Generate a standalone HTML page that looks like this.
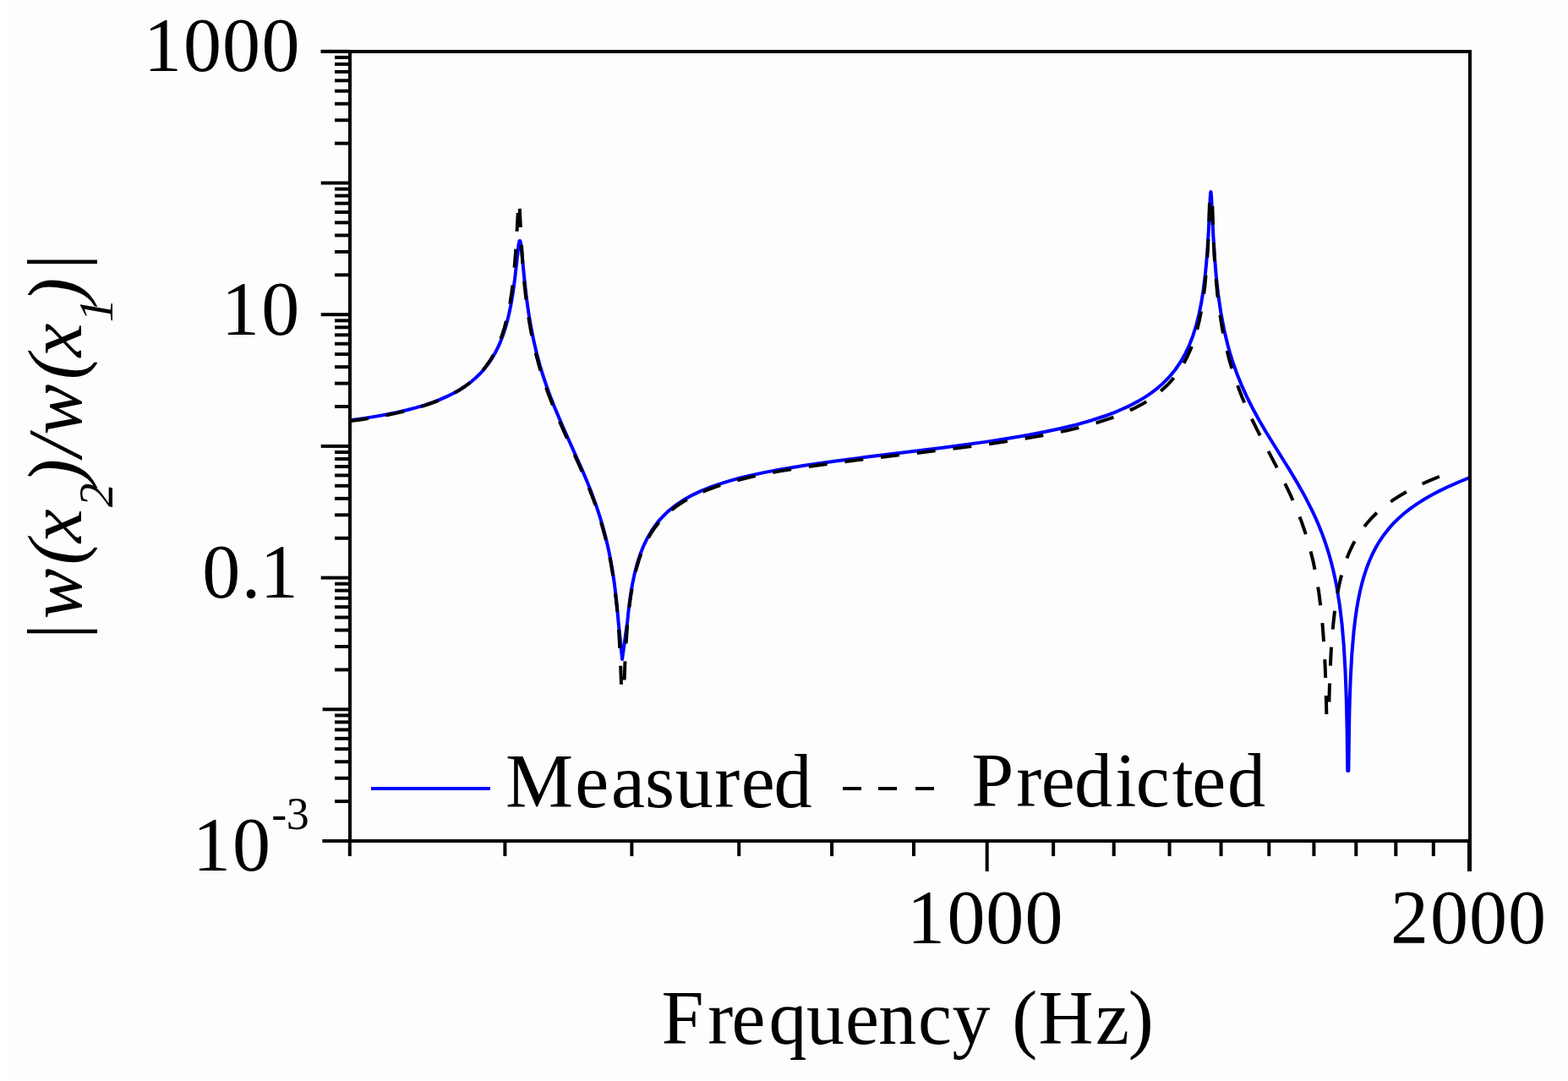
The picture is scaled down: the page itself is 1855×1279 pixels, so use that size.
<!DOCTYPE html>
<html><head><meta charset="utf-8"><title>Frequency response</title>
<style>
html,body{margin:0;padding:0;background:#fff;}
svg{display:block;}
text{font-family:"Liberation Serif","Times New Roman",serif;fill:#000;}
</style></head>
<body>
<svg width="1855" height="1279" viewBox="0 0 1855 1279">
<rect width="1855" height="1279" fill="#fdfdfd"/>
<rect width="7" height="1279" fill="#fff"/>
<rect y="1277" width="1855" height="2" fill="#fff"/>
<g id="curves" fill="none" stroke-linejoin="round">
<path id="blue" d="M414.00,497.24 L429.15,495.13 L443.40,492.88 L456.75,490.49 L469.30,487.94 L481.00,485.24 L492.00,482.36 L502.25,479.31 L511.85,476.06 L520.80,472.62 L529.20,468.94 L537.00,465.04 L544.25,460.90 L551.00,456.50 L557.30,451.80 L563.15,446.80 L568.55,441.49 L573.30,436.14 L577.75,430.39 L581.85,424.32 L585.65,417.83 L589.15,410.93 L592.35,403.63 L595.25,395.95 L597.95,387.62 L600.10,379.94 L602.10,371.72 L603.90,363.21 L605.60,353.93 L607.35,342.80 L609.00,330.47 L613.55,289.78 L614.50,285.01 L615.40,285.04 L616.10,288.31 L616.85,294.24 L620.10,327.80 L622.05,345.67 L623.85,359.81 L625.85,373.38 L628.55,389.02 L631.55,403.80 L634.95,418.23 L638.80,432.47 L642.45,444.50 L646.45,456.47 L650.90,468.71 L655.85,481.35 L665.50,504.09 L689.00,556.64 L694.95,570.79 L700.10,583.83 L705.15,597.69 L709.60,611.15 L713.60,624.68 L717.15,638.27 L720.05,650.95 L722.65,663.99 L724.95,677.39 L727.00,691.43 L729.50,712.66 L731.50,734.99 L736.10,780.00 L742.30,734.98 L743.60,722.21 L745.05,710.48 L746.50,700.65 L748.10,691.40 L750.75,678.75 L753.75,667.22 L757.15,656.58 L761.00,646.72 L765.80,636.67 L771.25,627.39 L774.20,623.07 L777.35,618.89 L780.70,614.86 L784.20,611.04 L787.90,607.36 L791.80,603.83 L800.25,597.17 L809.60,591.02 L819.90,585.34 L829.30,580.91 L839.50,576.74 L850.55,572.80 L862.55,569.06 L875.50,565.52 L889.60,562.12 L904.90,558.85 L921.55,555.68 L951.50,550.71 L986.90,545.65 L1022.60,541.05 L1117.00,529.47 L1167.50,522.61 L1192.40,518.79 L1214.95,514.96 L1235.60,511.03 L1254.55,506.98 L1273.60,502.33 L1291.00,497.45 L1306.90,492.27 L1321.45,486.76 L1334.65,480.91 L1346.70,474.64 L1352.30,471.34 L1357.65,467.92 L1362.70,464.40 L1367.55,460.71 L1375.95,453.46 L1383.60,445.64 L1390.50,437.25 L1396.70,428.21 L1402.25,418.45 L1407.15,408.00 L1411.50,396.66 L1415.35,384.25 L1418.50,371.66 L1421.25,357.96 L1423.65,342.87 L1425.70,326.35 L1427.20,310.98 L1428.50,294.23 L1429.80,272.80 L1431.75,233.22 L1432.15,228.14 L1432.35,227.02 L1432.55,227.01 L1433.20,234.11 L1435.25,277.05 L1436.85,303.25 L1438.80,326.87 L1441.20,348.59 L1444.35,370.16 L1448.10,389.95 L1452.55,408.58 L1455.05,417.52 L1457.80,426.43 L1462.95,441.18 L1468.75,455.62 L1475.35,470.12 L1482.90,485.01 L1489.80,497.53 L1497.80,511.18 L1525.05,555.15 L1534.95,571.65 L1544.30,588.34 L1552.30,604.06 L1556.30,612.65 L1560.05,621.30 L1563.50,629.90 L1566.70,638.57 L1569.65,647.30 L1572.40,656.25 L1574.95,665.44 L1577.25,674.66 L1579.40,684.32 L1581.40,694.48 L1584.80,715.54 L1587.60,738.78 L1589.80,764.26 L1591.50,793.05 L1592.75,825.86 L1593.60,862.72 L1594.25,912.00 L1595.35,912.00 L1596.25,849.17 L1596.90,824.56 L1597.75,802.00 L1599.40,772.61 L1601.60,746.94 L1603.10,733.95 L1604.80,721.88 L1606.70,710.70 L1608.85,700.12 L1611.25,690.15 L1613.90,680.81 L1616.85,671.91 L1620.10,663.49 L1623.85,655.13 L1627.95,647.23 L1632.40,639.80 L1637.30,632.66 L1642.60,625.90 L1648.35,619.44 L1654.60,613.24 L1661.35,607.29 L1668.60,601.60 L1676.45,596.07 L1684.90,590.72 L1694.00,585.50 L1703.85,580.36 L1714.45,575.30 L1725.95,570.24 L1738.50,565.12" stroke="#0000ff" stroke-width="4.0"/>
<path id="black" d="M414.00,498.25 L430.35,495.91 L445.60,493.41 L459.80,490.75 L473.05,487.90 L485.40,484.86 L496.85,481.63 L507.55,478.16 L517.45,474.47 L526.65,470.52 L535.15,466.32 L543.05,461.82 L550.35,457.01 L557.10,451.86 L563.30,446.37 L569.05,440.46 L574.30,434.16 L578.90,427.73 L583.15,420.81 L587.00,413.48 L590.55,405.55 L593.75,397.12 L596.65,388.06 L599.25,378.39 L601.60,367.90 L603.50,357.75 L605.25,346.57 L606.80,334.62 L608.20,321.48 L610.50,292.38 L613.20,244.01 L613.65,239.42 L613.75,239.00 L614.05,239.00 L614.80,247.48 L616.65,284.09 L617.90,304.97 L619.20,322.54 L620.70,339.05 L622.65,356.48 L624.95,373.19 L627.55,388.80 L630.55,403.93 L634.20,419.56 L638.40,435.00 L643.15,450.23 L648.55,465.62 L654.20,480.23 L660.70,495.80 L667.60,511.44 L686.65,553.52 L692.30,566.60 L697.20,578.53 L702.60,592.64 L707.35,606.24 L711.60,619.75 L715.40,633.37 L719.15,648.85 L722.40,664.68 L725.20,681.05 L727.65,698.61 L730.25,722.81 L732.30,749.34 L733.90,779.44 L735.20,816.00 L738.25,816.00 L739.30,786.45 L740.55,762.13 L742.15,740.15 L744.10,720.79 L746.45,703.48 L749.25,687.88 L752.55,673.72 L756.40,660.84 L758.55,654.82 L760.90,648.97 L763.40,643.43 L766.10,638.09 L768.95,633.04 L771.95,628.27 L775.15,623.69 L778.60,619.25 L782.20,615.08 L786.05,611.04 L790.15,607.16 L794.45,603.47 L799.00,599.93 L803.80,596.55 L808.90,593.28 L814.25,590.16 L823.80,585.25 L834.25,580.64 L845.60,576.32 L858.00,572.25 L871.50,568.40 L886.20,564.75 L902.20,561.27 L919.75,557.90 L951.40,552.69 L989.05,547.43 L1027.00,542.72 L1125.40,531.13 L1152.70,527.68 L1176.80,524.39 L1201.75,520.66 L1224.30,516.90 L1244.90,513.03 L1263.70,509.03 L1282.25,504.50 L1299.15,499.72 L1314.50,494.65 L1328.50,489.23 L1341.20,483.44 L1352.75,477.22 L1358.10,473.93 L1363.20,470.52 L1368.00,467.00 L1372.60,463.32 L1380.25,456.35 L1387.20,448.86 L1393.50,440.78 L1399.15,432.11 L1404.25,422.69 L1408.75,412.61 L1412.75,401.67 L1416.25,389.88 L1419.00,378.49 L1421.40,366.32 L1423.50,353.14 L1425.30,338.99 L1427.35,317.59 L1428.95,293.77 L1430.20,266.10 L1431.15,233.00 L1434.05,233.00 L1435.00,267.25 L1436.30,297.25 L1438.00,323.67 L1440.10,346.89 L1442.75,368.61 L1446.00,388.96 L1449.85,407.94 L1454.45,426.27 L1458.80,440.86 L1463.75,455.30 L1469.35,469.76 L1475.75,484.60 L1481.60,497.11 L1488.30,510.60 L1511.10,554.08 L1519.30,570.19 L1526.95,586.22 L1533.55,601.34 L1539.80,617.37 L1545.20,633.26 L1549.90,649.44 L1554.00,666.30 L1557.35,683.04 L1560.20,700.63 L1562.65,719.77 L1564.65,740.09 L1566.30,762.53 L1567.60,787.09 L1568.60,814.39 L1569.40,847.00 L1571.90,847.00 L1573.15,802.64 L1574.85,768.24 L1575.95,752.94 L1577.25,738.60 L1578.70,725.72 L1580.40,713.39 L1582.10,703.14 L1584.00,693.43 L1586.10,684.28 L1588.45,675.51 L1591.00,667.31 L1593.80,659.51 L1596.85,652.10 L1600.15,645.10 L1603.95,638.04 L1608.10,631.29 L1612.60,624.86 L1617.45,618.75 L1622.70,612.89 L1628.35,607.28 L1634.45,601.88 L1641.00,596.69 L1648.05,591.66 L1655.60,586.80 L1663.75,582.04 L1672.45,577.42 L1681.80,572.87 L1691.80,568.41 L1702.50,564.00 L1713.80,559.69" stroke="#000" stroke-width="4.0" stroke-dasharray="22 21"/>
</g>
<g id="frame" fill="#000">
<rect x="412" y="59" width="4" height="938"/>
<rect x="379.7" y="59" width="1361.3" height="4"/>
<rect x="381.6" y="993" width="1359.4" height="4"/>
<rect x="1737" y="59" width="4" height="972"/>
<rect x="381.6" y="993.00" width="32.4" height="4"/>
<rect x="396" y="946.13" width="18" height="4"/>
<rect x="396" y="918.71" width="18" height="4"/>
<rect x="396" y="899.26" width="18" height="4"/>
<rect x="396" y="884.17" width="18" height="4"/>
<rect x="396" y="871.84" width="18" height="4"/>
<rect x="396" y="861.42" width="18" height="4"/>
<rect x="396" y="852.39" width="18" height="4"/>
<rect x="396" y="844.42" width="18" height="4"/>
<rect x="381.6" y="837.30" width="32.4" height="4"/>
<rect x="396" y="790.43" width="18" height="4"/>
<rect x="396" y="763.01" width="18" height="4"/>
<rect x="396" y="743.56" width="18" height="4"/>
<rect x="396" y="728.47" width="18" height="4"/>
<rect x="396" y="716.14" width="18" height="4"/>
<rect x="396" y="705.72" width="18" height="4"/>
<rect x="396" y="696.69" width="18" height="4"/>
<rect x="396" y="688.72" width="18" height="4"/>
<rect x="379.7" y="681.60" width="34.3" height="4"/>
<rect x="396" y="634.73" width="18" height="4"/>
<rect x="396" y="607.31" width="18" height="4"/>
<rect x="396" y="587.86" width="18" height="4"/>
<rect x="396" y="572.77" width="18" height="4"/>
<rect x="396" y="560.44" width="18" height="4"/>
<rect x="396" y="550.02" width="18" height="4"/>
<rect x="396" y="540.99" width="18" height="4"/>
<rect x="396" y="533.02" width="18" height="4"/>
<rect x="379.7" y="525.90" width="34.3" height="4"/>
<rect x="396" y="479.03" width="18" height="4"/>
<rect x="396" y="451.61" width="18" height="4"/>
<rect x="396" y="432.16" width="18" height="4"/>
<rect x="396" y="417.07" width="18" height="4"/>
<rect x="396" y="404.74" width="18" height="4"/>
<rect x="396" y="394.32" width="18" height="4"/>
<rect x="396" y="385.29" width="18" height="4"/>
<rect x="396" y="377.32" width="18" height="4"/>
<rect x="379.7" y="370.20" width="34.3" height="4"/>
<rect x="396" y="323.33" width="18" height="4"/>
<rect x="396" y="295.91" width="18" height="4"/>
<rect x="396" y="276.46" width="18" height="4"/>
<rect x="396" y="261.37" width="18" height="4"/>
<rect x="396" y="249.04" width="18" height="4"/>
<rect x="396" y="238.62" width="18" height="4"/>
<rect x="396" y="229.59" width="18" height="4"/>
<rect x="396" y="221.62" width="18" height="4"/>
<rect x="379.7" y="214.50" width="34.3" height="4"/>
<rect x="396" y="167.63" width="18" height="4"/>
<rect x="396" y="140.21" width="18" height="4"/>
<rect x="396" y="120.76" width="18" height="4"/>
<rect x="396" y="105.67" width="18" height="4"/>
<rect x="396" y="93.34" width="18" height="4"/>
<rect x="396" y="82.92" width="18" height="4"/>
<rect x="396" y="73.89" width="18" height="4"/>
<rect x="396" y="65.92" width="18" height="4"/>
<rect x="379.7" y="58.80" width="34.3" height="4"/>
<rect x="411.80" y="995" width="4" height="18"/>
<rect x="595.40" y="995" width="4" height="18"/>
<rect x="745.40" y="995" width="4" height="18"/>
<rect x="872.24" y="995" width="4" height="18"/>
<rect x="982.10" y="995" width="4" height="18"/>
<rect x="1079.01" y="995" width="4" height="18"/>
<rect x="1165.70" y="995" width="4" height="36"/>
<rect x="1244.12" y="995" width="4" height="18"/>
<rect x="1315.71" y="995" width="4" height="18"/>
<rect x="1381.56" y="995" width="4" height="18"/>
<rect x="1442.54" y="995" width="4" height="18"/>
<rect x="1499.30" y="995" width="4" height="18"/>
<rect x="1552.40" y="995" width="4" height="18"/>
<rect x="1602.28" y="995" width="4" height="18"/>
<rect x="1649.31" y="995" width="4" height="18"/>
<rect x="1693.80" y="995" width="4" height="18"/>
<rect x="1736.00" y="995" width="4" height="36"/>
</g>
<g id="labels" font-size="90">
<text id="xtitle" x="782.5 837.2 865.5 909.5 954.1 1000.1 1039.2 1086.1 1126.6 1175 1197.3 1228.4 1295.9 1334.8" y="1234.6">Frequency (Hz)</text>
<text id="lgm" x="598.1 680.2 723.0 763.0 798.8 845.2 876.7 915.5" y="954.7">Measured</text>
<text id="lgp" x="1149.3 1202.2 1231.7 1270.9 1319.3 1343.8 1386.8 1410.2 1451.9" y="954.4">Predicted</text>
<text id="yl1000" x="169.9 217.0 263.0 309.5" y="84.2">1000</text>
<text id="xl1000" x="1073.1 1120.5 1166.2 1212.5" y="1116">1000</text>
<text id="xl2000" x="1645.0 1692.0 1738.0 1783.9" y="1116">2000</text>
<text id="yl10" x="262.0 309.2" y="395.6">10</text>
<text id="yl01" x="239.3 285.8 307.7" y="707">0.1</text>
<text id="yl103" x="227.9 275.1" y="1030.2">10</text>
<text x="321.2 338.7" y="981" font-size="54">-3</text>
</g>
<g id="legend">
<rect x="439" y="931" width="141" height="4" fill="#0000ff"/>
<rect x="997" y="931" width="22" height="4"/>
<rect x="1039" y="931" width="22" height="4"/>
<rect x="1083" y="931" width="22" height="4"/>
</g>
<text id="ytitle" transform="translate(96,747) rotate(-90)" font-size="90" font-style="italic"><tspan x="-14" y="0">|</tspan><tspan x="14.5">w</tspan><tspan x="78.6">(</tspan><tspan x="104.8">x</tspan><tspan x="147" y="36.5" font-size="57">2</tspan><tspan x="174" y="0">)</tspan><tspan x="206.6">/</tspan><tspan x="232.4">w</tspan><tspan x="297.8">(</tspan><tspan x="324.5">x</tspan><tspan x="365.7" y="36.5" font-size="57">1</tspan><tspan x="388.3" y="0">)</tspan><tspan x="423.3">|</tspan></text>
</svg>
</body></html>
